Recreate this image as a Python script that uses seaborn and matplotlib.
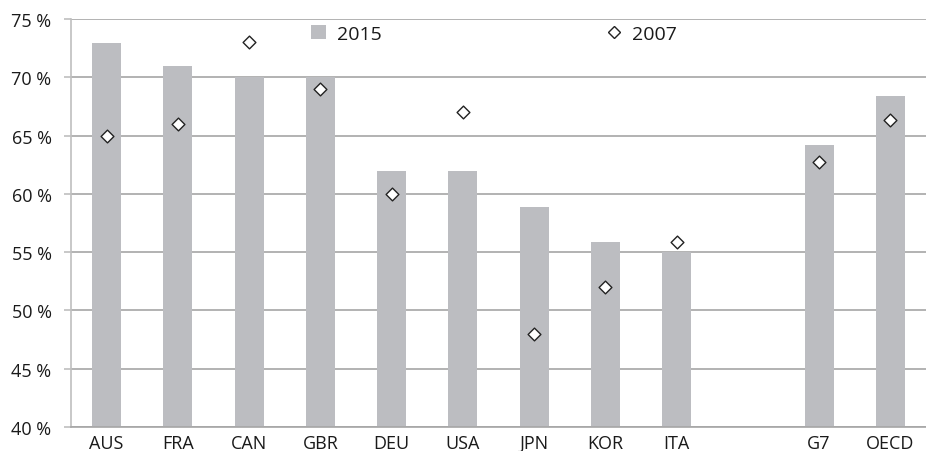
import matplotlib
matplotlib.use("Agg")
import matplotlib.pyplot as plt
import seaborn as sns
import pandas as pd
from matplotlib.patches import Patch
from matplotlib.lines import Line2D
from matplotlib.ticker import FuncFormatter

categories = ["AUS", "FRA", "CAN", "GBR", "DEU", "USA", "JPN", "KOR", "ITA", "G7", "OECD"]
order = ["AUS", "FRA", "CAN", "GBR", "DEU", "USA", "JPN", "KOR", "ITA", " ", "G7", "OECD"]
values_2015 = [72.9, 71.0, 70.0, 70.0, 62.0, 62.0, 58.9, 55.9, 55.0, 64.2, 68.4]
values_2007 = [65.0, 66.0, 73.0, 69.0, 60.0, 67.0, 48.0, 52.0, 55.9, 62.7, 66.3]
yticks = [40, 45, 50, 55, 60, 65, 70, 75]

df = pd.DataFrame({"country": categories, "v2015": values_2015, "v2007": values_2007})

sns.set_style("white")
plt.rcParams["font.family"] = ["Open Sans", "DejaVu Sans"]

W, H = 926, 452
fig = plt.figure(figsize=(W / 100, H / 100), dpi=100)
ax = fig.add_axes([71 / W, (H - 428) / H, 855 / W, 408 / H])

bar_color = "#BCBDC1"
sns.barplot(data=df, x="country", y="v2015", order=order, color=bar_color,
            width=0.41, saturation=1, ax=ax, zorder=2, errorbar=None, linewidth=0)
sns.stripplot(data=df, x="country", y="v2007", order=order, jitter=False,
              marker="D", size=6.5, color="white", edgecolor="#222222",
              linewidth=1.0, ax=ax, zorder=3)

ax.set_ylim(40, 75)
ax.set_yticks(yticks)
ax.yaxis.set_major_formatter(FuncFormatter(lambda v, p: f"{int(v)} %"))
ax.set_xlim(-0.5, len(order) - 0.5)
ax.set_xlabel("")
ax.set_ylabel("")

ax.grid(axis="y", color="#A6A6A6", linewidth=1.2, zorder=0)
ax.set_axisbelow(True)
for s in ["top", "right"]:
    ax.spines[s].set_visible(False)
ax.spines["left"].set_color("#BFBFBF")
ax.spines["left"].set_linewidth(1.2)
ax.spines["bottom"].set_color("#A6A6A6")
ax.spines["bottom"].set_linewidth(1.2)

ax.tick_params(axis="y", length=5, width=1.2, color="#BFBFBF", pad=9,
               labelsize=13, labelcolor="#1a1a1a", left=True)
ax.tick_params(axis="x", length=0, pad=5, labelsize=13, labelcolor="#1a1a1a")

handles = [Patch(facecolor=bar_color, edgecolor="none", label="2015"),
           Line2D([], [], marker="D", linestyle="none", markersize=6,
                  markerfacecolor="white", markeredgecolor="#222222",
                  markeredgewidth=1.0, label="2007")]
ax.legend(handles=handles, ncol=2, loc="center", bbox_to_anchor=(0.495, 0.963),
          frameon=False, fontsize=14, columnspacing=11.6, handlelength=0.75,
          handleheight=0.7, handletextpad=0.55, labelcolor="#1a1a1a")

fig.savefig("out.png", dpi=100)
